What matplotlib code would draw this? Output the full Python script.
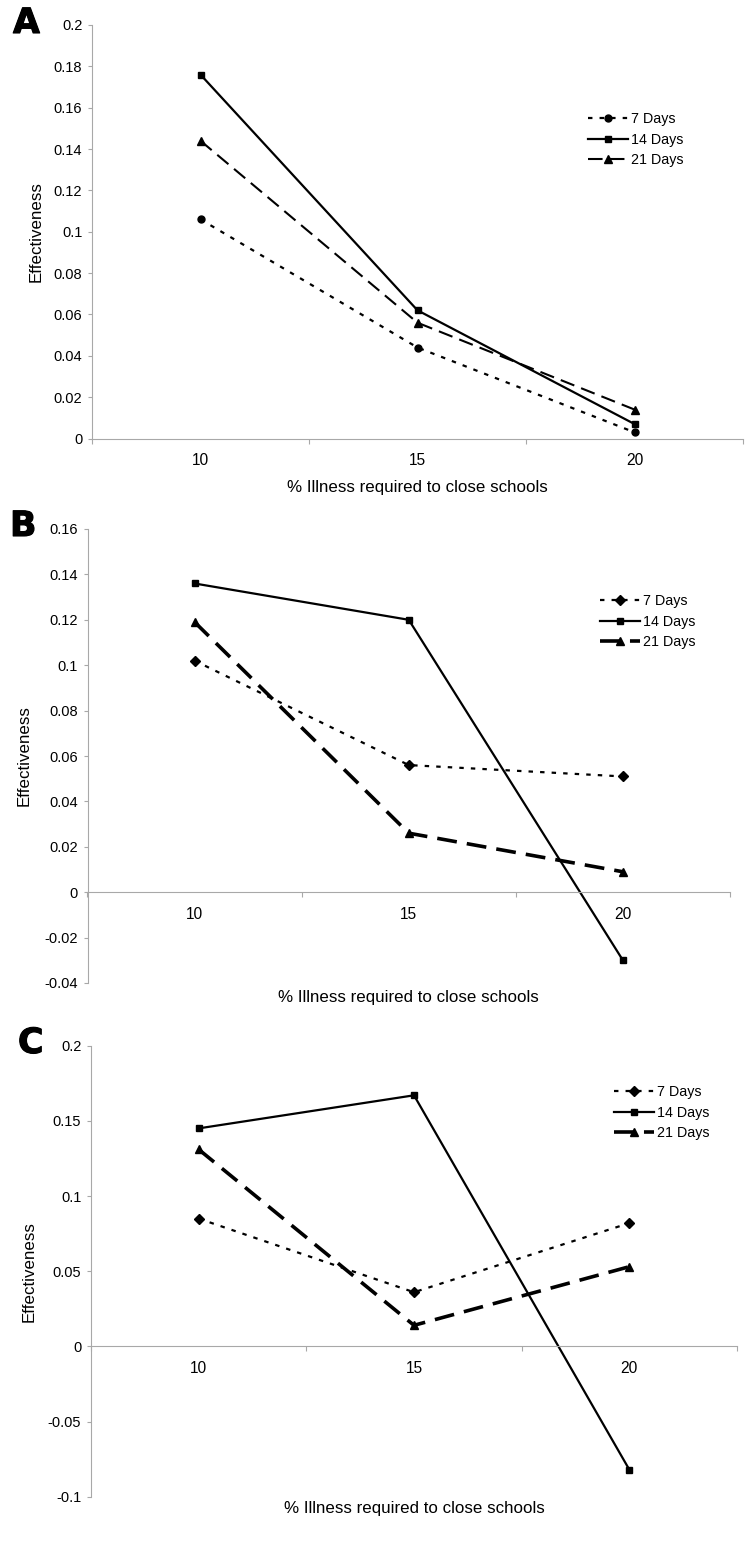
import numpy as np
import matplotlib
matplotlib.use("Agg")
import matplotlib.pyplot as plt
import matplotlib.patheffects as pe
from matplotlib.ticker import FixedLocator, FuncFormatter

plt.rcParams['font.family'] = ['Liberation Sans', 'DejaVu Sans']

illness = ["10", "15", "20"]
series_names = ["7 Days", "14 Days", "21 Days"]

# panel A
a_7 = [0.106, 0.044, 0.003]
a_14 = [0.176, 0.062, 0.007]
a_21 = [0.144, 0.056, 0.014]

# panel B
b_7 = [0.102, 0.056, 0.051]
b_14 = [0.136, 0.120, -0.030]
b_21 = [0.119, 0.026, 0.009]

# panel C
c_7 = [0.085, 0.036, 0.082]
c_14 = [0.145, 0.167, -0.082]
c_21 = [0.131, 0.014, 0.053]

W, H = 750, 1543
fig = plt.figure(figsize=(W / 100, H / 100), dpi=100)

AXCOL = "#a8a8a8"


def px_axes(left, right, top, bottom):
    return fig.add_axes([left / W, (H - bottom) / H, (right - left) / W, (bottom - top) / H])


def draw_panel(ax, letter, vals7, vals14, vals21, mark7, ylim, ystep,
               thick21, xlab_y, ylab_x, leg_xy, letter_xy):
    lw21 = 2.6 if thick21 else 1.5
    d21 = (5.5, 2.8) if thick21 else (7, 3.5)
    ms7 = 5 if mark7 == "o" else 5.5
    ax.plot(illness, vals7, color="black", lw=1.6, dashes=(2, 3.2),
            marker=mark7, ms=ms7, label=series_names[0])
    ax.plot(illness, vals14, color="black", lw=1.6, marker="s", ms=5,
            label=series_names[1])
    ax.plot(illness, vals21, color="black", lw=lw21, dashes=d21,
            marker="^", ms=5.5, label=series_names[2])

    ax.set_xlim(-0.5, 2.5)
    ax.set_ylim(*ylim)
    yt = np.arange(ylim[0], ylim[1] + ystep / 2, ystep)
    ax.yaxis.set_major_locator(FixedLocator(yt))
    ax.yaxis.set_major_formatter(FuncFormatter(lambda v, p: "{:g}".format(round(v, 4))))
    ax.xaxis.set_minor_locator(FixedLocator([-0.5, 0.5, 1.5, 2.5]))

    for s in ["top", "right"]:
        ax.spines[s].set_visible(False)
    ax.spines["left"].set_color(AXCOL)
    ax.spines["bottom"].set_color(AXCOL)
    ax.spines["bottom"].set_position(("data", 0))
    ax.tick_params(axis="y", length=3, width=0.8, color=AXCOL, pad=4, labelsize=10.5)
    ax.tick_params(axis="x", which="major", length=0, pad=10.5, labelsize=11.2)
    ax.tick_params(axis="x", which="minor", length=3.5, width=0.8, color=AXCOL, direction="out")

    ax.set_ylabel("Effectiveness", fontsize=12.2)
    ax.yaxis.set_label_coords(ylab_x, 0.5)
    ax.set_xlabel("% Illness required to close schools", fontsize=12.2)
    ax.xaxis.set_label_coords(0.5, xlab_y)
    ax.xaxis.label.set_va("center")
    ax.yaxis.label.set_va("center")

    ax.legend(loc="upper left", bbox_to_anchor=leg_xy, frameon=False, fontsize=10.3,
              handlelength=2.8, handletextpad=0.2, labelspacing=0.47,
              borderpad=0, borderaxespad=0)

    fig.text(letter_xy[0] / W, 1 - letter_xy[1] / H, letter, fontsize=25,
             fontweight="bold", family="DejaVu Sans", ha="left", va="top",
             path_effects=[pe.withStroke(linewidth=0.8, foreground="black")])


axA = px_axes(92, 743, 25, 438.5)
draw_panel(axA, "A", a_7, a_14, a_21, "o", (0, 0.2), 0.02, False,
           -0.1197, -0.086, (0.762, 0.79), (13, 6))

axB = px_axes(87.5, 730, 529, 983)
draw_panel(axB, "B", b_7, b_14, b_21, "D", (-0.04, 0.16), 0.02, True,
           -0.033, -0.099, (0.798, 0.857), (10, 509))

axC = px_axes(91, 737, 1045.7, 1496.7)
draw_panel(axC, "C", c_7, c_14, c_21, "D", (-0.1, 0.2), 0.05, True,
           -0.027, -0.096, (0.8096, 0.913), (18, 1026))

fig.savefig("out.png", dpi=100)
